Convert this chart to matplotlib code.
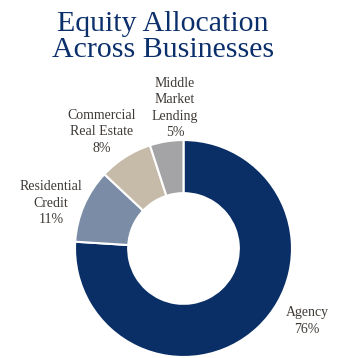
import matplotlib
matplotlib.use("Agg")
import matplotlib.pyplot as plt

categories = ["Agency", "Residential\nCredit", "Commercial\nReal Estate", "Middle\nMarket\nLending"]
values = [76, 11, 8, 5]
colors = ["#0a2f66", "#7a8ca6", "#c6bba9", "#a4a4a6"]

W, H = 351, 358
fig = plt.figure(figsize=(W / 100, H / 100), dpi=100)
fig.patch.set_facecolor("white")

cx, cy, r = 183.5, 248.5, 108.5
ax = fig.add_axes([(cx - r) / W, (H - cy - r) / H, 2 * r / W, 2 * r / H])
ax.pie(values, colors=colors, startangle=90, counterclock=False, radius=1,
       wedgeprops=dict(width=0.49, edgecolor="white", linewidth=1.5))
ax.set_xlim(-1, 1)
ax.set_ylim(-1, 1)
ax.set_aspect("equal")
ax.axis("off")

font = "Liberation Serif"
fig.text(163 / W, 1 - 37 / H, "Equity Allocation\nAcross Businesses", ha="center", va="center",
         fontsize=21.5, color="#0b2f6b", family=font, linespacing=0.98)

label_pos = [(307, 321), (51, 203), (102, 132), (175, 108)]
for cat, v, (x, y) in zip(categories, values, label_pos):
    fig.text(x / W, 1 - y / H, f"{cat}\n{v}%", ha="center", va="center",
             fontsize=10, color="#3f3a36", family=font, linespacing=1.32)

fig.savefig("out.png", dpi=100)
